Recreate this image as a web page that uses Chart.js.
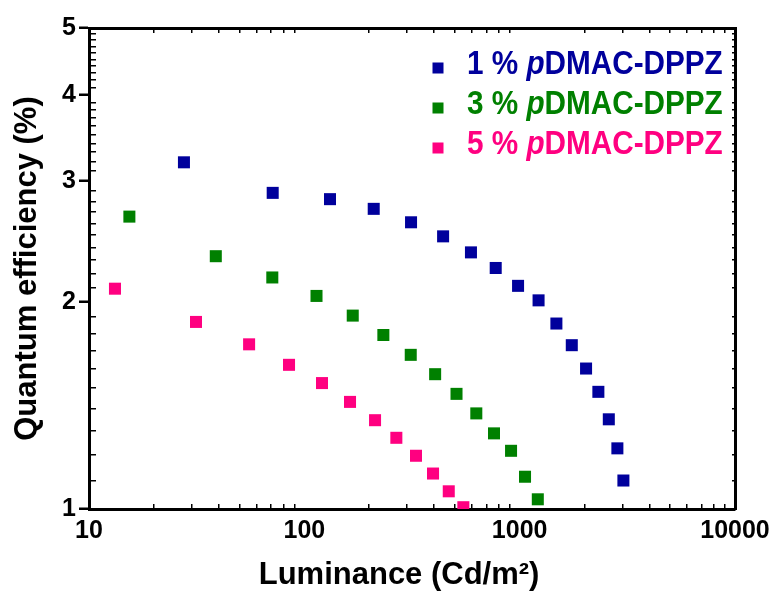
<!DOCTYPE html>
<html>
<head>
<meta charset="utf-8">
<script src="https://cdn.jsdelivr.net/npm/chart.js@4.4.0/dist/chart.umd.min.js"></script>
<style>
  html, body { margin: 0; padding: 0; background: #fff; }
</style>
</head>
<body>
<canvas id="grafico" width="772" height="594"></canvas>
<script>
// datos
const series = ['1 % pDMAC-DPPZ', '3 % pDMAC-DPPZ', '5 % pDMAC-DPPZ'];
const colores = ['#00009c', '#008000', '#ff0080'];

const lum1 = [27.6, 71.3, 131.6, 210, 313, 441, 594, 774, 983, 1224, 1481, 1746, 2034, 2320, 2594, 2843, 3032];
const eqe1 = [3.19, 2.88, 2.82, 2.73, 2.61, 2.49, 2.36, 2.24, 2.11, 2.01, 1.86, 1.73, 1.60, 1.48, 1.35, 1.225, 1.10];

const lum3 = [15.4, 38.8, 71.0, 113.9, 167.8, 232.8, 312, 405, 509, 629, 760, 912, 1059, 1214];
const eqe3 = [2.66, 2.33, 2.17, 2.04, 1.91, 1.79, 1.675, 1.57, 1.47, 1.377, 1.288, 1.215, 1.114, 1.033];

const lum5 = [13.2, 31.4, 55.4, 84.9, 120.8, 163, 213, 267.5, 330, 396, 468.5, 547.6];
const eqe5 = [2.09, 1.87, 1.735, 1.62, 1.524, 1.431, 1.346, 1.269, 1.195, 1.126, 1.061, 1.006];

const xTicks = [10, 100, 1000, 10000];
const xMinor = [20, 30, 40, 50, 60, 70, 80, 90, 200, 300, 400, 500, 600, 700, 800, 900,
  2000, 3000, 4000, 5000, 6000, 7000, 8000, 9000];
const yTicks = [1, 2, 3, 4, 5];
const yMinor = [1.1, 1.2, 1.3, 1.4, 1.5, 1.6, 1.7, 1.8, 1.9, 2.1, 2.2, 2.3, 2.4, 2.5, 2.6, 2.7, 2.8, 2.9,
  3.1, 3.2, 3.3, 3.4, 3.5, 3.6, 3.7, 3.8, 3.9, 4.1, 4.2, 4.3, 4.4, 4.5, 4.6, 4.7, 4.8, 4.9];

const ctx = document.getElementById('grafico').getContext('2d');

function puntos(xs, ys) {
  return xs.map((x, i) => ({ x: x, y: ys[i] }));
}

function esMayor(c, lista) {
  return c.tick && lista.includes(c.tick.value);
}

// marcas menores hacia dentro en los dos extremos de cada linea de rejilla
function guionMenor(c, horizontal) {
  if (c.type !== 'tick' || !c.chart.chartArea) return [];
  const a = c.chart.chartArea;
  const largo = horizontal ? a.bottom - a.top : a.right - a.left;
  return [5, largo - 10, 5, 3000];
}

// leyenda dentro del area, con la "p" en cursiva
const leyenda = {
  id: 'leyenda',
  afterDatasetsDraw(chart) {
    const c = chart.ctx;
    chart.data.datasets.forEach((ds, i) => {
      const y = 68 + i * 40;
      c.save();
      c.fillStyle = ds.backgroundColor;
      c.fillRect(432.5, y - 5.5, 11, 11);
      c.translate(467, y + 6);
      c.scale(0.9, 1);
      c.textBaseline = 'alphabetic';
      const m = ds.label.match(/^(.* )(p)(.*)$/);
      const partes = m ? [[m[1], ''], [m[2], 'italic '], [m[3], '']] : [[ds.label, '']];
      let x = 0;
      partes.forEach(([txt, estilo]) => {
        c.font = estilo + 'bold 33px "Liberation Sans", Arial, sans-serif';
        c.fillText(txt, x, 0);
        x += c.measureText(txt).width;
      });
      c.restore();
    });
  }
};

const grafico = new Chart(ctx, {
  type: 'scatter',
  data: {
    datasets: [
      { label: series[0], data: puntos(lum1, eqe1), backgroundColor: colores[0] },
      { label: series[1], data: puntos(lum3, eqe3), backgroundColor: colores[1] },
      { label: series[2], data: puntos(lum5, eqe5), backgroundColor: colores[2] },
    ],
  },
  options: {
    responsive: false,
    animation: false,
    layout: { padding: 0 },
    elements: {
      point: { pointStyle: 'rect', radius: 8.5, borderWidth: 0, hoverRadius: 8.5 },
    },
    plugins: {
      legend: { display: false },
      tooltip: { enabled: false },
    },
    scales: {
      x: {
        type: 'logarithmic',
        position: 'bottom',
        min: 10,
        max: 10000,
        afterBuildTicks: (s) => { s.ticks = xTicks.concat(xMinor).sort((a, b) => a - b).map(v => ({ value: v })); },
        afterFit: (s) => { s.height = 85; s.paddingLeft = 0; s.paddingRight = 0; },
        grid: {
          drawOnChartArea: true,
          tickLength: 4,
          tickColor: 'rgba(0,0,0,0)',
          lineWidth: 1.5,
          color: (c) => esMayor(c, xTicks) ? 'rgba(0,0,0,0)' : '#000',
        },
        border: { color: '#000', width: 3, dash: (c) => guionMenor(c, true) },
        ticks: {
          color: '#000',
          padding: 5.5,
          maxRotation: 0,
          autoSkip: false,
          font: { family: '"Liberation Sans", Arial', size: 25, weight: 'bold', lineHeight: 1 },
          callback: (v) => xTicks.includes(v) ? String(v) : '',
        },
        title: {
          display: true,
          text: 'Luminance (Cd/m²)   ',
          color: '#000',
          padding: { top: 0, bottom: 3.5 },
          font: { family: '"Liberation Sans", Arial', size: 31, weight: 'bold', lineHeight: 1 },
        },
      },
      x2: {
        type: 'logarithmic',
        position: 'top',
        min: 10,
        max: 10000,
        afterFit: (s) => { s.height = 28; s.paddingLeft = 0; s.paddingRight = 0; },
        grid: { display: false, drawTicks: false },
        border: { color: '#000', width: 3 },
        ticks: { display: false },
      },
      y: {
        type: 'logarithmic',
        position: 'left',
        min: 1,
        max: 5,
        afterBuildTicks: (s) => { s.ticks = yTicks.concat(yMinor).sort((a, b) => a - b).map(v => ({ value: v })); },
        afterFit: (s) => { s.width = 89; s.paddingTop = 0; s.paddingBottom = 0; },
        grid: {
          drawOnChartArea: true,
          tickLength: 10,
          tickWidth: 2.5,
          lineWidth: 1.5,
          tickColor: (c) => esMayor(c, yTicks) ? '#000' : 'rgba(0,0,0,0)',
          color: (c) => esMayor(c, yTicks) ? 'rgba(0,0,0,0)' : '#000',
        },
        border: { color: '#000', width: 3, dash: (c) => guionMenor(c, false) },
        ticks: {
          color: '#000',
          padding: 3,
          autoSkip: false,
          font: { family: '"Liberation Sans", Arial', size: 25, weight: 'bold' },
          callback: (v) => yTicks.includes(v) ? String(v) : '',
        },
        title: {
          display: true,
          text: 'Quantum efficiency (%)',
          color: '#000',
          padding: { top: 11.5, bottom: 0 },
          font: { family: '"Liberation Sans", Arial', size: 31, weight: 'bold', lineHeight: 1 },
        },
      },
      y2: {
        type: 'logarithmic',
        position: 'right',
        min: 1,
        max: 5,
        afterFit: (s) => { s.width = 37; s.paddingTop = 0; s.paddingBottom = 0; },
        grid: { display: false, drawTicks: false },
        border: { color: '#000', width: 3 },
        ticks: { display: false },
      },
    },
  },
  plugins: [leyenda],
});
</script>
</body>
</html>
